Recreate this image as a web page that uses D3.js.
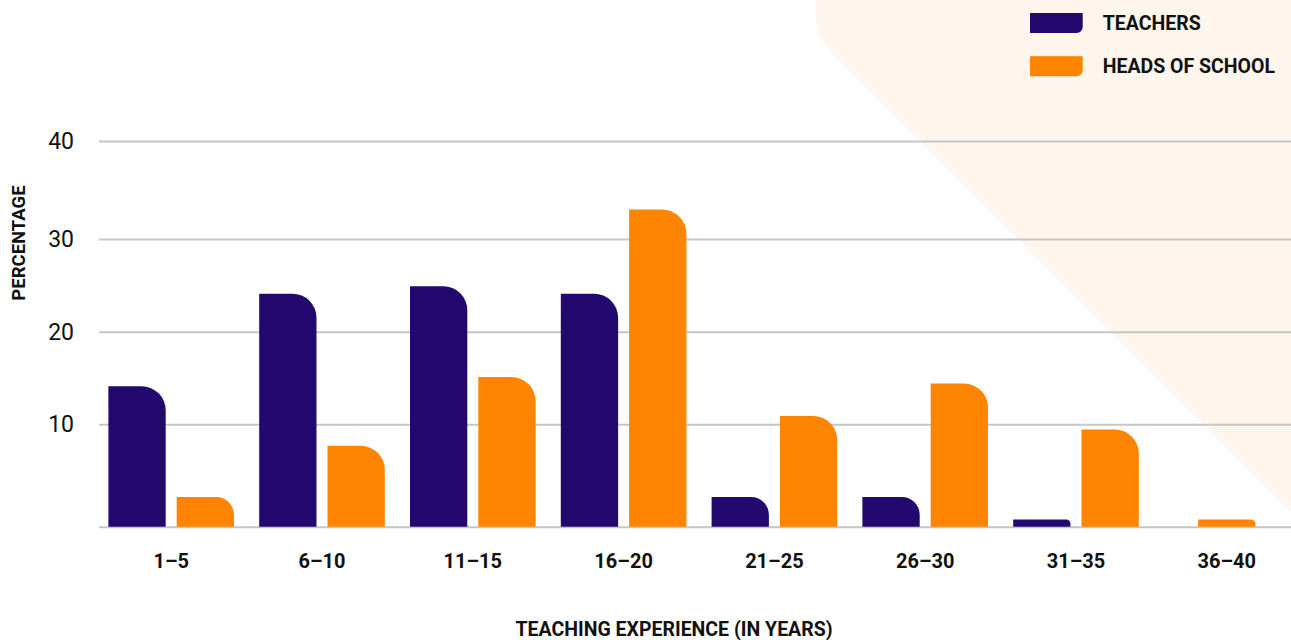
<!DOCTYPE html>
<html>
<head>
<meta charset="utf-8">
<script src="https://cdn.jsdelivr.net/npm/d3@7"></script>
<style>
  html, body { margin: 0; padding: 0; background: #ffffff; }
  svg { display: block; }
  text { font-family: Roboto, "Noto Sans", sans-serif; fill: #111111; }
</style>
</head>
<body>
<svg id="chart" width="1291" height="640"></svg>
<script>
// Share of respondents by years of teaching experience
const categories = ["1–5", "6–10", "11–15", "16–20", "21–25", "26–30", "31–35", "36–40"];
const seriesNames = ["TEACHERS", "HEADS OF SCHOOL"];
const teachers = [14.1, 24.1, 24.9, 24.1, 2.9, 2.9, 0.7, null];
const heads = [2.9, 7.9, 15.1, 33.0, 10.9, 14.4, 9.5, 0.7];
const yTicks = [0, 10, 20, 30, 40];
const colors = ["#23086e", "#ff8500"];

const W = 1291, H = 640;
const svg = d3.select("#chart");

// soft backdrop panel in the top-right corner
svg.append("path")
  .attr("d", "M816,0 L816,14 Q816,38 834,55 L1291,512 L1291,0 Z")
  .attr("fill", "#fef5ec");

const plotLeft = 99, plotRight = W;

// vertical scale follows the printed gridlines
const y = d3.scaleLinear()
  .domain([0, 10, 20, 30, 40])
  .range([526.7, 424.3, 331.7, 239, 141]);

const x = d3.scaleBand()
  .domain(categories)
  .range([95.8, 95.8 + 150.8 * categories.length])
  .paddingInner(0).paddingOuter(0);

const inner = d3.scaleBand()
  .domain(seriesNames)
  .range([x.bandwidth() / 2 - 62.8, x.bandwidth() / 2 + 62.8])
  .paddingInner(0.161).paddingOuter(0);

// gridlines + y labels
const yAxis = svg.append("g")
  .attr("transform", `translate(${plotLeft},0)`)
  .call(d3.axisLeft(y)
    .tickValues(yTicks)
    .tickSize(-(plotRight - plotLeft))
    .tickPadding(25)
    .tickFormat(d => d === 0 ? "" : d));
yAxis.select(".domain").remove();
yAxis.selectAll(".tick line").attr("stroke", "#c6c6c6").attr("stroke-width", 2);
yAxis.selectAll(".tick text")
  .attr("font-size", 23).attr("font-weight", 400)
  .style("font-family", "Roboto, sans-serif").attr("fill", "#1a1a1a");

// bars with a rounded top-right corner
function barPath(x0, w, v) {
  const y0 = y(0), top = y(v), h = y0 - top;
  const r = Math.min(24, h * 0.6, w / 2);
  return `M${x0},${y0} V${top} H${x0 + w - r} A${r},${r} 0 0 1 ${x0 + w},${top + r} V${y0} Z`;
}

const rows = categories.map((c, i) => ({ cat: c, vals: [teachers[i], heads[i]] }));
const groups = svg.append("g").selectAll("g")
  .data(rows).join("g")
  .attr("transform", d => `translate(${x(d.cat)},0)`);

groups.each(function (d) {
  const present = d.vals.map((v, k) => ({ v, k })).filter(o => o.v != null);
  const bw = inner.bandwidth();
  d3.select(this).selectAll("path")
    .data(present).join("path")
    .attr("fill", o => colors[o.k])
    .attr("d", o => {
      const x0 = present.length === 1 ? x.bandwidth() / 2 - bw / 2 : inner(seriesNames[o.k]);
      return barPath(x0, bw, o.v);
    });
});

// x category labels
const xAxis = svg.append("g")
  .attr("transform", `translate(0,${y(0)})`)
  .call(d3.axisBottom(x).tickSize(0).tickPadding(27));
xAxis.select(".domain").remove();
xAxis.selectAll(".tick text")
  .attr("font-size", 20).attr("font-weight", 700)
  .style("font-family", "Roboto, sans-serif").attr("fill", "#111");

// axis titles
svg.append("text")
  .attr("x", 674).attr("y", 636)
  .attr("text-anchor", "middle")
  .attr("font-size", 19.5).attr("font-weight", 700)
  .text("TEACHING EXPERIENCE (IN YEARS)");

svg.append("text")
  .attr("transform", "translate(25,243) rotate(-90)")
  .attr("text-anchor", "middle")
  .attr("font-size", 18.5).attr("font-weight", 700)
  .text("PERCENTAGE");

// legend
const legend = svg.append("g").attr("transform", "translate(1030,13)");
const leg = legend.selectAll("g").data(seriesNames).join("g")
  .attr("transform", (d, i) => `translate(0,${i * 43.3})`);
leg.append("path")
  .attr("fill", (d, i) => colors[i])
  .attr("d", "M0,0 H52.7 V14 A6,6 0 0 1 46.7,20 H0 Z");
leg.append("text")
  .attr("x", 72.7).attr("y", 17)
  .attr("font-size", 19.5).attr("font-weight", 700)
  .text(d => d);
</script>
</body>
</html>
